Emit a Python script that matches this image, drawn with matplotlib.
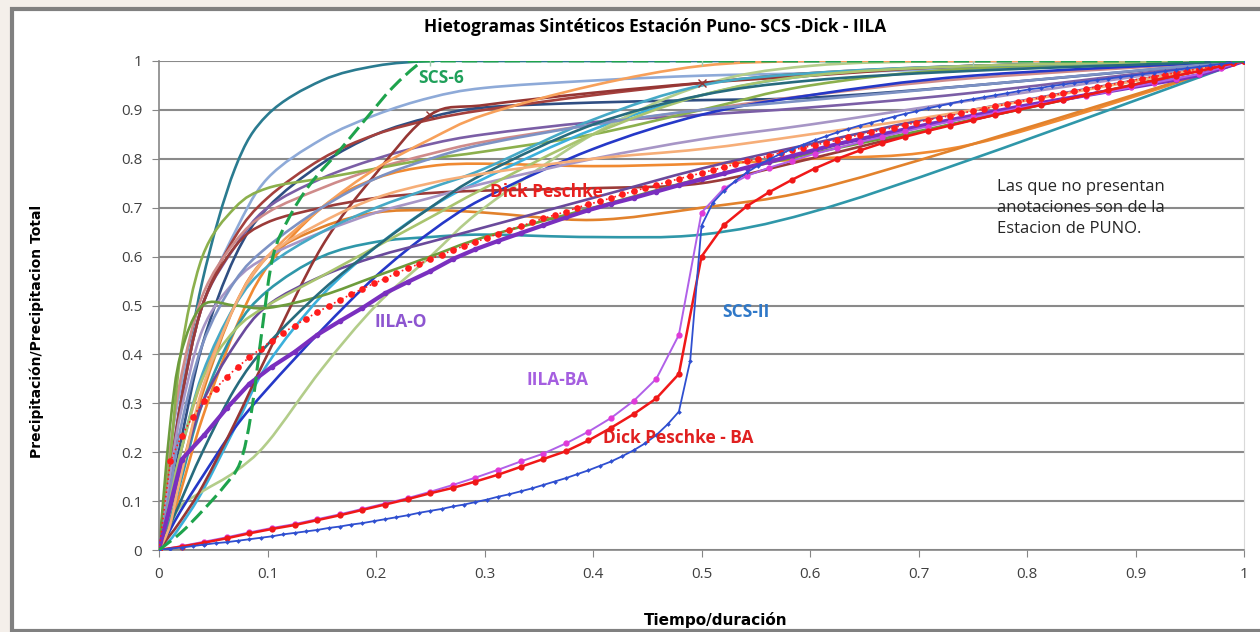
import numpy as np
import matplotlib.pyplot as plt
from matplotlib.patches import Rectangle, PathPatch
from matplotlib.path import Path

plt.rcParams['font.family'] = ['Open Sans', 'DejaVu Sans']

# relative time grid of the Puno station curves
t_puno = [0, 0.01, 0.02, 0.04, 0.07, 0.1, 0.15, 0.2, 0.25, 0.3, 0.4, 0.5, 0.6, 0.75, 1.0]

puno_01 = [0, .14, .30, .55, .78, .89, .96, .99, 1, 1, 1, 1, 1, 1, 1]
puno_02 = [0, .20, .33, .50, .65, .76, .84, .89, .925, .945, .96, .97, .975, .985, 1]
puno_03 = [0, .10, .22, .42, .60, .70, .79, .85, .885, .905, .915, .92, .925, .95, 1]
puno_04 = [0, .12, .30, .50, .64, .72, .80, .85, .88, .90, .93, .955, .975, .99, 1]
puno_05 = [0, .15, .30, .50, .62, .70, .76, .80, .83, .85, .875, .89, .905, .935, 1]
puno_06 = [0, .20, .35, .52, .63, .69, .74, .78, .81, .835, .87, .90, .93, .965, 1]
puno_07 = [0, .18, .40, .60, .70, .74, .76, .78, .80, .815, .85, .90, .95, .985, 1]
puno_08 = [0, .05, .12, .27, .45, .58, .70, .76, .785, .79, .785, .79, .80, .83, 1]
puno_09 = [0, .08, .16, .32, .50, .60, .66, .69, .695, .69, .675, .70, .735, .83, 1]
puno_10 = [0, .06, .14, .30, .45, .53, .60, .63, .64, .645, .64, .645, .69, .80, 1]
puno_11 = [0, .02, .05, .12, .25, .38, .52, .62, .70, .76, .86, .93, .97, .99, 1]
puno_12 = [0, .05, .09, .12, .16, .22, .37, .50, .60, .70, .85, .95, .99, 1, 1]
puno_13 = [0, .04, .08, .15, .25, .33, .45, .56, .65, .72, .82, .89, .93, .97, 1]
puno_14 = [0, .03, .06, .13, .26, .40, .62, .77, .89, .91, .935, .955, .97, .99, 1]
puno_15 = [0, .15, .30, .50, .62, .67, .70, .72, .73, .735, .74, .75, .80, .88, 1]
puno_16 = [0, .15, .28, .45, .55, .60, .65, .69, .72, .75, .80, .84, .87, .92, 1]
puno_17 = [0, .10, .20, .35, .50, .60, .70, .78, .84, .89, .95, .99, 1, 1, 1]
puno_18 = [0, .10, .20, .36, .50, .58, .65, .70, .74, .78, .88, .95, .975, .99, 1]
puno_19 = [0, .08, .16, .30, .42, .50, .56, .60, .63, .66, .72, .78, .83, .90, 1]
puno_20 = [0, .12, .25, .42, .55, .62, .70, .76, .80, .83, .87, .90, .92, .95, 1]
puno_21 = [0, .10, .20, .35, .45, .50, .56, .62, .68, .74, .85, .93, .97, .99, 1]
puno_22 = [0, .25, .40, .50, .50, .495, .52, .56, .60, .64, .70, .76, .81, .88, 1]
puno_23 = [0, .05, .10, .20, .33, .42, .53, .62, .70, .77, .87, .93, .96, .98, 1]
puno_24 = [0, .05, .15, .33, .50, .60, .67, .72, .75, .77, .80, .82, .85, .90, 1]

puno_colors = ['#2a7b90', '#8eaad8', '#2f4e82', '#a4403d', '#7b5ea6', '#cf8b8a',
               '#8cb04d', '#f08a32', '#e2822c', '#2f97a9', '#3bb0dc', '#b3cd8a',
               '#2538c8', '#963634', '#9b3b39', '#a796c6', '#f7a05a', '#46a9c6',
               '#6a4a9c', '#7d92c4', '#a9c46f', '#6d9c3c', '#276b7d', '#f6ae78']

# SCS tipo 6
t_scs6 = [0, 0.02, 0.04, 0.06, 0.075, 0.085, 0.095, 0.105, 0.12, 0.14, 0.166, 0.19, 0.215, 0.24, 0.25, 0.5, 0.75, 1.0]
scs6 = [0, .035, .08, .13, .18, .28, .45, .60, .68, .75, .816, .88, .945, .995, 1, 1, 1, 1]

# 96 pasos (15 min en 24 h)
t96 = np.linspace(0, 1, 97)
dick_peschke = [0,
    .181, .234, .273, .304, .330, .354, .375, .394, .412, .428, .444, .459,
    .473, .486, .499, .511, .523, .534, .545, .555, .566, .576, .585, .595,
    .604, .613, .622, .630, .638, .647, .655, .662, .670, .678, .685, .692,
    .700, .707, .713, .720, .727, .734, .740, .746, .753, .759, .765, .771,
    .777, .783, .789, .795, .800, .806, .812, .817, .823, .828, .833, .838,
    .844, .849, .854, .859, .864, .869, .874, .879, .884, .888, .893, .898,
    .902, .907, .912, .916, .921, .925, .930, .934, .938, .943, .947, .951,
    .955, .960, .964, .968, .972, .976, .980, .984, .988, .992, .996, 1.0]

scs_ii = [0,
    .003, .005, .008, .011, .014, .016, .019, .022, .025, .028, .032, .035,
    .038, .041, .045, .048, .052, .055, .059, .063, .067, .071, .076, .080,
    .084, .089, .093, .098, .103, .109, .114, .120, .126, .133, .140, .147,
    .155, .163, .172, .181, .192, .204, .218, .235, .257, .283, .387, .663,
    .710, .735, .755, .772, .786, .799, .810, .820, .829, .838, .846, .854,
    .861, .868, .874, .880, .886, .892, .897, .903, .908, .913, .918, .922,
    .926, .930, .934, .938, .942, .945, .949, .952, .955, .958, .961, .964,
    .967, .970, .973, .976, .979, .982, .985, .988, .991, .994, .997, 1.0]

# 48 pasos
t48 = np.linspace(0, 1, 49)
iila_o = [0,
    .185, .235, .290, .340, .375, .405, .440, .468, .495, .525, .548, .570,
    .595, .615, .632, .648, .664, .680, .695, .708, .720, .733, .746, .758,
    .770, .782, .794, .806, .818, .830, .840, .850, .860, .870, .879, .888,
    .897, .906, .914, .922, .930, .938, .946, .954, .962, .971, .985, 1.0]

dick_peschke_ba = [0,
    .007, .015, .024, .034, .043, .051, .061, .071, .082, .093, .104, .116,
    .127, .140, .154, .170, .186, .202, .224, .250, .278, .310, .360, .600,
    .665, .703, .732, .757, .780, .800, .817, .832, .845, .857, .868, .879,
    .890, .900, .910, .920, .930, .940, .950, .960, .970, .979, .990, 1.0]

iila_ba = [0,
    .008, .017, .026, .036, .045, .053, .063, .073, .084, .095, .106, .119,
    .133, .148, .164, .181, .197, .218, .242, .270, .305, .350, .440, .690,
    .740, .765, .782, .796, .810, .822, .834, .845, .856, .866, .876, .885,
    .894, .903, .912, .920, .929, .937, .946, .955, .964, .973, .986, 1.0]

ticks = np.arange(0, 1.01, 0.1)
tick_labels = ['0', '0.1', '0.2', '0.3', '0.4', '0.5', '0.6', '0.7', '0.8', '0.9', '1']


def smooth_path(x, y):
    # curva suavizada tipo Excel (Catmull-Rom -> Bezier cubica)
    p = np.column_stack([x, y]).astype(float)
    ext = np.vstack([p[0], p, p[-1]])
    verts = [p[0]]
    codes = [Path.MOVETO]
    for i in range(1, len(ext) - 2):
        p0, p1, p2, p3 = ext[i - 1], ext[i], ext[i + 1], ext[i + 2]
        verts += [p1 + (p2 - p0) / 6, p2 - (p3 - p1) / 6, p2]
        codes += [Path.CURVE4] * 3
    return Path(verts, codes)


W, H = 1260, 632
fig = plt.figure(figsize=(W / 100, H / 100), dpi=100)
fig.patch.set_facecolor('#f4efea')
fig.add_artist(Rectangle((12 / W, 1 / H), 1.0, (H - 10) / H, transform=fig.transFigure,
                         facecolor='white', edgecolor='#808080', lw=3, zorder=0))

ax = fig.add_axes([159 / W, 82 / H, 1085 / W, 489 / H])
ax.set_facecolor('white')
ax.set_xlim(0, 1)
ax.set_ylim(0, 1)

puno = [puno_01, puno_02, puno_03, puno_04, puno_05, puno_06, puno_07, puno_08,
        puno_09, puno_10, puno_11, puno_12, puno_13, puno_14, puno_15, puno_16,
        puno_17, puno_18, puno_19, puno_20, puno_21, puno_22, puno_23, puno_24]
for y, c in zip(puno, puno_colors):
    ax.add_patch(PathPatch(smooth_path(t_puno, y), fill=False, edgecolor=c, lw=1.9,
                           joinstyle='round', capstyle='round', zorder=2))
# marcas en 0.25 y 0.5
ax.plot(t_puno, puno_14, color=puno_colors[13], lw=0, marker='x', ms=6, markevery=[8, 11], zorder=2)

ax.plot(t48, iila_o, color='#7a2fbf', lw=3.0, marker='o', ms=3, zorder=3)
ax.plot(t96, dick_peschke, color='#ff1c1c', lw=1.2, ls=':', marker='o', ms=4.8, mec='none', zorder=4)
ax.plot(t48, iila_ba, color='#b060e8', lw=1.4, marker='o', ms=3.5, mfc='#e03ad8', mec='#e03ad8', zorder=3)
ax.plot(t48, dick_peschke_ba, color='#f01818', lw=1.8, marker='o', ms=4.5, mec='none', zorder=4)
ax.plot(t96, scs_ii, color='#2f4fd0', lw=1.3, marker='D', ms=2.4, mec='none', zorder=4)
scs6_patch = PathPatch(smooth_path(t_scs6, scs6), fill=False, edgecolor='#1ea34c', lw=2.2, zorder=5)
scs6_patch.set_linestyle((0, (5, 2)))
ax.add_patch(scs6_patch)
ax.plot(t_scs6, scs6, color='#9fc9ae', lw=0, marker='|', ms=7, markevery=[14, 15, 16], zorder=5)

ax.set_xticks(ticks)
ax.set_xticklabels(tick_labels)
ax.set_yticks(ticks)
ax.set_yticklabels(tick_labels)
ax.tick_params(direction='out', length=5, color='#868686', labelsize=11,
               labelcolor='#404040', pad=7)
ax.yaxis.grid(True, color='#8a8a8a', lw=1.5)
ax.set_axisbelow(True)
for s in ['left', 'bottom']:
    ax.spines[s].set_color('#868686')
    ax.spines[s].set_linewidth(1.2)
ax.spines['top'].set_visible(False)
ax.spines['right'].set_color('#d9d9d9')

# anotaciones
lbl = dict(fontsize=12.5, weight='bold', va='center', ha='left', zorder=6)
ax.text(0.239, 0.965, 'SCS-6', color='#1fa05a', **lbl)
ax.text(0.305, 0.732, 'Dick Peschke', color='#e8201e', **lbl)
ax.text(0.199, 0.466, 'IILA-O', color='#8d55d0', **lbl)
ax.text(0.519, 0.487, 'SCS-II', color='#2f78c8', **lbl)
ax.text(0.339, 0.348, 'IILA-BA', color='#a55ee0', **lbl)
ax.text(0.409, 0.229, 'Dick Peschke - BA', color='#e02020', **lbl)
ax.text(0.772, 0.758, 'Las que no presentan\nanotaciones son de la\nEstacion de PUNO.',
        color='#262626', fontsize=12, va='top', ha='left', linespacing=1.4, zorder=6)

fig.text(655 / W, 1 - 27 / H, 'Hietogramas Sintéticos Estación Puno- SCS -Dick - IILA',
         ha='center', va='center', weight='bold', fontsize=12.5)
fig.text(716 / W, 1 - 620 / H, 'Tiempo/duración', ha='center', va='center',
         weight='bold', fontsize=11, family=['DejaVu Sans'])
fig.text(37 / W, 1 - 331 / H, 'Precipitación/Precipitacion Total', ha='center', va='center',
         rotation=90, weight='bold', fontsize=10, family=['DejaVu Sans'])

fig.savefig('out.png', dpi=100, facecolor=fig.get_facecolor())
